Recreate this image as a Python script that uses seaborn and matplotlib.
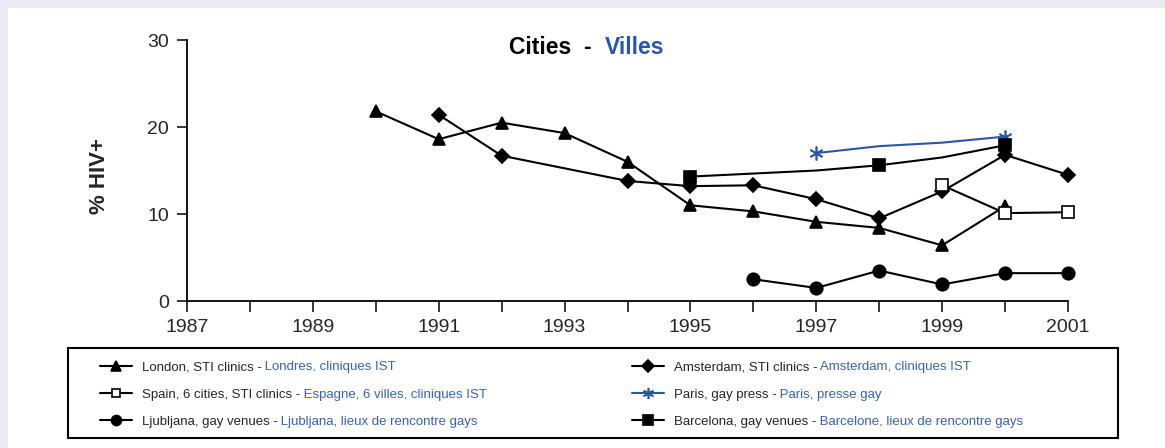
import matplotlib
matplotlib.use("Agg")
import matplotlib.pyplot as plt
import seaborn as sns
from matplotlib.patches import Rectangle

# values (% HIV+)
london_years = [1990, 1991, 1992, 1993, 1994, 1995, 1996, 1997, 1998, 1999, 2000]
london_hiv = [21.8, 18.6, 20.5, 19.3, 16.0, 11.0, 10.3, 9.1, 8.4, 6.4, 10.9]

amsterdam_years = [1991, 1992, 1994, 1995, 1996, 1997, 1998, 1999, 2000, 2001]
amsterdam_hiv = [21.4, 16.7, 13.8, 13.2, 13.3, 11.7, 9.5, 12.6, 16.8, 14.5]

spain_years = [1999, 2000, 2001]
spain_hiv = [13.3, 10.1, 10.2]

paris_years = [1997, 1998, 1999, 2000]
paris_hiv = [17.0, 17.8, 18.2, 18.9]
paris_marked = [0, 3]

ljubljana_years = [1996, 1997, 1998, 1999, 2000, 2001]
ljubljana_hiv = [2.5, 1.5, 3.5, 1.9, 3.2, 3.2]

barcelona_years = [1995, 1997, 1998, 1999, 2000]
barcelona_hiv = [14.3, 15.0, 15.6, 16.5, 17.9]
barcelona_marked = [0, 2, 4]

labels_en = ["London, STI clinics", "Amsterdam, STI clinics", "Spain, 6 cities, STI clinics",
             "Paris, gay press", "Ljubljana, gay venues", "Barcelona, gay venues"]
labels_fr = ["Londres, cliniques IST", "Amsterdam, cliniques IST", "Espagne, 6 villes, cliniques IST",
             "Paris, presse gay", "Ljubljana, lieux de rencontre gays", "Barcelone, lieux de rencontre gays"]

BLUE = "#2B55A5"
BLUE_TXT = "#3A62AE"

sns.set_style("white")
plt.rcParams["font.family"] = ["Liberation Sans", "DejaVu Sans"]

fig = plt.figure(figsize=(11.65, 4.48), dpi=100)
fig.patch.set_facecolor("#EAEAF2")
fig.add_artist(Rectangle((8 / 1165, 0), 1, 440 / 448, transform=fig.transFigure,
                         facecolor="white", edgecolor="none", zorder=-10))
ax = fig.add_axes([187 / 1165, 147 / 448, 881 / 1165, 261 / 448])
ax.set_facecolor("none")

common = dict(ax=ax, linewidth=1.5, clip_on=False, markeredgewidth=1.2)
sns.lineplot(x=london_years, y=london_hiv, color="black", marker="^", markersize=9,
             markeredgecolor="black", label=labels_en[0], **common)
sns.lineplot(x=amsterdam_years, y=amsterdam_hiv, color="black", marker="D", markersize=7.5,
             markeredgecolor="black", label=labels_en[1], **common)
sns.lineplot(x=spain_years, y=spain_hiv, color="black", marker="s", markersize=8,
             markerfacecolor="white", markeredgecolor="black", label=labels_en[2], **common)
sns.lineplot(x=paris_years, y=paris_hiv, color=BLUE, marker=(6, 2, 0), markersize=10,
             markeredgecolor=BLUE, markevery=paris_marked, label=labels_en[3], **common)
sns.lineplot(x=ljubljana_years, y=ljubljana_hiv, color="black", marker="o", markersize=9,
             markeredgecolor="black", label=labels_en[4], **common)
sns.lineplot(x=barcelona_years, y=barcelona_hiv, color="black", marker="s", markersize=9,
             markeredgecolor="black", markevery=barcelona_marked, label=labels_en[5], **common)

ax.set_xlim(1987, 2001)
ax.set_ylim(0, 30)
ax.set_xticks(range(1987, 2002))
ax.set_xticklabels([str(y) if y % 2 == 1 else "" for y in range(1987, 2002)])
ax.set_yticks([0, 10, 20, 30])
ax.tick_params(axis="x", direction="out", length=8, width=1.3, pad=5, labelsize=14, bottom=True)
ax.tick_params(axis="y", direction="out", length=7, width=1.3, pad=6, labelsize=14, left=True)
for side in ["top", "right"]:
    ax.spines[side].set_visible(False)
for side in ["left", "bottom"]:
    ax.spines[side].set_linewidth(1.3)
    ax.spines[side].set_color("black")
ax.set_xlabel("")
ax.set_ylabel("% HIV+", fontsize=16, fontweight="bold")
ax.yaxis.set_label_coords(-0.087, 0.48)

# title in two colours
fig.text(509 / 1165, 1 - 48 / 448, "Cities  -", fontsize=16.5, fontweight="bold",
         color="black", ha="left", va="center")
fig.text(605 / 1165, 1 - 48 / 448, "Villes", fontsize=16.5, fontweight="bold",
         color=BLUE, ha="left", va="center")

# legend: two frameless columns inside a drawn box, French part added in blue
lines = ax.get_lines()
ax.get_legend().remove()
fig.add_artist(Rectangle((68 / 1165, 10 / 448), 1050 / 1165, 90 / 448, transform=fig.transFigure,
                         fill=False, edgecolor="black", linewidth=1.5))
leg_kw = dict(frameon=False, fontsize=9.5, handlelength=2.4, handletextpad=0.75,
              labelspacing=1.15, borderpad=0, borderaxespad=0, markerscale=0.8,
              loc="upper left", bbox_transform=fig.transFigure)
col1 = [0, 2, 4]
col2 = [1, 3, 5]
leg1 = ax.legend([lines[i] for i in col1], [labels_en[i] + " -" for i in col1],
                 bbox_to_anchor=(100 / 1165, 1 - 361 / 448), **leg_kw)
ax.add_artist(leg1)
leg2 = ax.legend([lines[i] for i in col2], [labels_en[i] + " -" for i in col2],
                 bbox_to_anchor=(632 / 1165, 1 - 361 / 448), **leg_kw)

fig.canvas.draw()
inv = fig.transFigure.inverted()
for leg, idx in [(leg1, col1), (leg2, col2)]:
    for txt, i in zip(leg.get_texts(), idx):
        bb = txt.get_window_extent()
        x, y = inv.transform((bb.x1, bb.y0))
        fig.text(x, y, " " + labels_fr[i], fontsize=9.5, color=BLUE_TXT, ha="left", va="bottom")

fig.savefig("out.png", dpi=100, facecolor=fig.get_facecolor())
